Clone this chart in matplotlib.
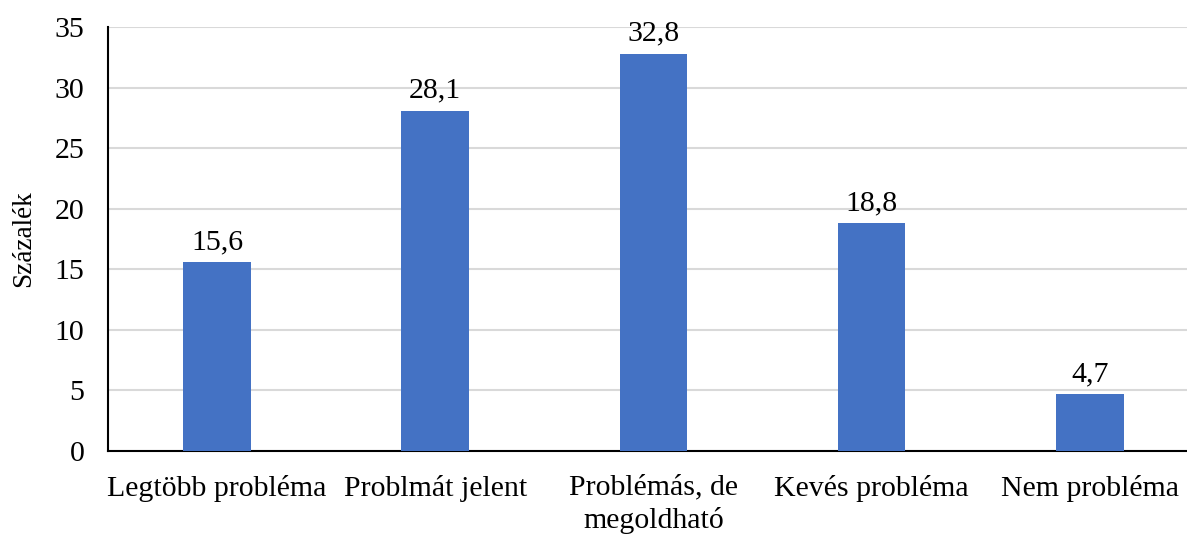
import matplotlib
matplotlib.use("Agg")
import matplotlib.pyplot as plt
import numpy as np

categories = ["Legtöbb probléma", "Problmát jelent", "Problémás, de\nmegoldható",
              "Kevés probléma", "Nem probléma"]
values = [15.6, 28.1, 32.8, 18.8, 4.7]
value_labels = ["15,6", "28,1", "32,8", "18,8", "4,7"]

plt.rcParams["font.family"] = ["Liberation Serif", "DejaVu Serif"]
FS = 21.5

fig = plt.figure(figsize=(11.87, 5.34), dpi=100)
ax = fig.add_axes([0.091, 0.1554, 0.919, 0.794])

x = np.arange(len(categories))
bars = ax.bar(x, values, width=0.31, color="#4472C4", zorder=3)

for b, lab in zip(bars, value_labels):
    ax.annotate(lab, (b.get_x() + b.get_width() / 2, b.get_height()),
                xytext=(0, 5), textcoords="offset points",
                ha="center", va="bottom", fontsize=FS)

ax.set_xlim(-0.5, len(categories) - 0.5)
ax.set_ylim(0, 35)
ax.set_yticks(range(0, 36, 5))
ax.set_xticks(x)
ax.set_xticklabels(categories, fontsize=FS, linespacing=1.3)
ax.tick_params(axis="y", labelsize=FS, length=0, pad=17)
ax.tick_params(axis="x", length=0, pad=17)
ax.grid(axis="y", color="#D9D9D9", linewidth=1.5, zorder=0)
ax.set_ylabel("Százalék", fontsize=19.5, labelpad=13)

for s in ["top", "right"]:
    ax.spines[s].set_visible(False)
ax.spines["left"].set_linewidth(1.5)
ax.spines["bottom"].set_linewidth(1.5)

fig.savefig("out.png", dpi=100)
